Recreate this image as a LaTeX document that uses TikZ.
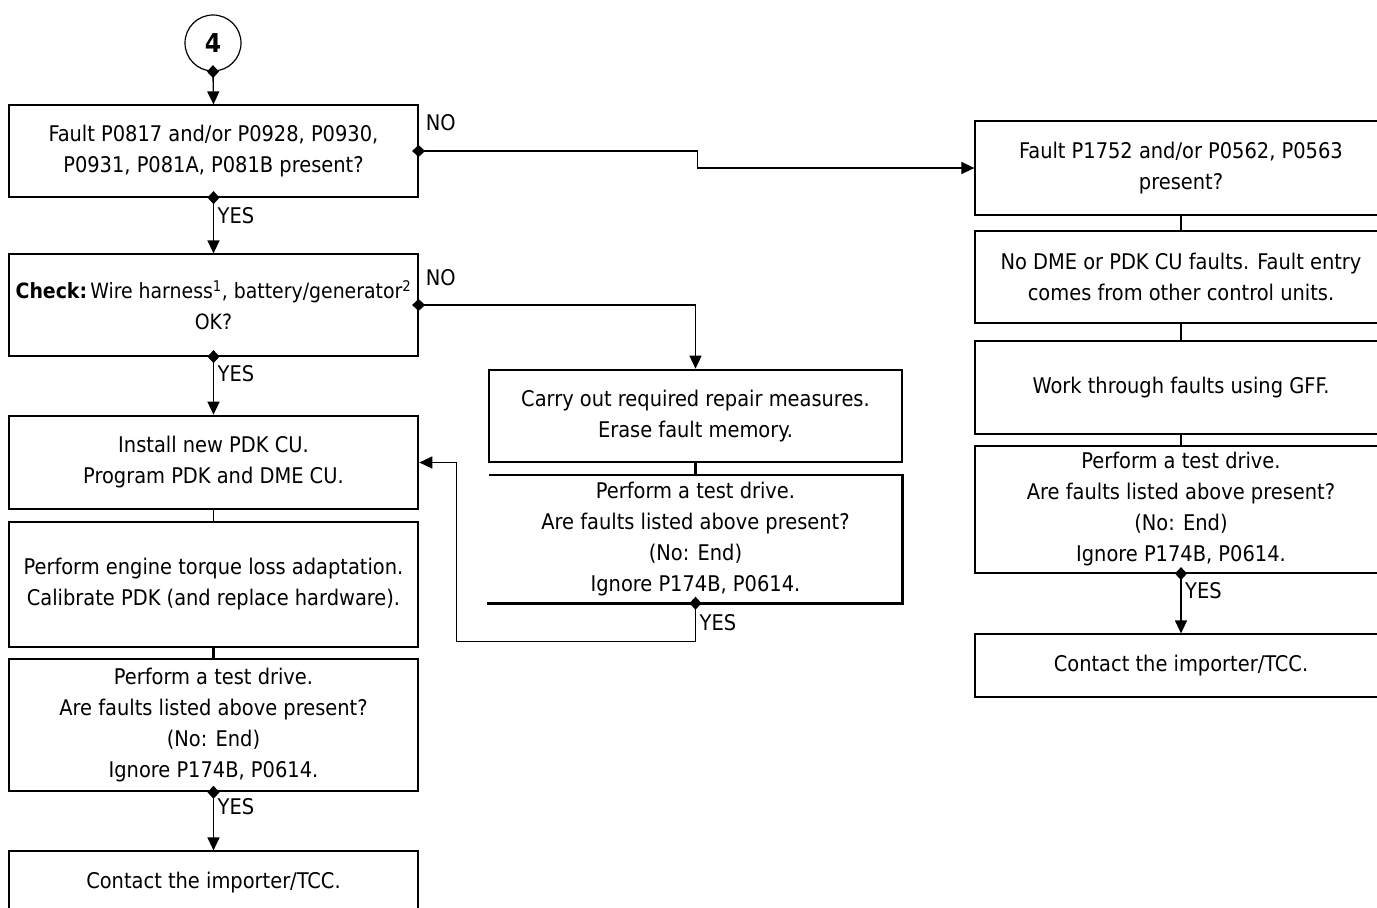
\documentclass[tikz,border=0pt]{standalone}
\usepackage{fontspec}
\setmainfont{DejaVu Sans Condensed}
\usetikzlibrary{arrows.meta}

\tikzset{
  txt/.style={font=\fontsize{21.6}{31}\selectfont},
  box/.style={txt, draw, line width=1.2pt, align=center, inner sep=0pt},
  boldbox/.style={txt, draw, line width=2.6pt, align=center, inner sep=0pt},
  openbox/.style={txt, align=center, inner sep=0pt},
  flow/.style={line width=1.3pt, {Diamond[length=13pt,width=12pt]}-{Triangle[length=13pt,width=12pt]}, shorten <=-6.5pt},
  plain/.style={line width=1.2pt},
  lbl/.style={txt, inner sep=0pt, anchor=base west},
}

\begin{document}
\begin{tikzpicture}[x=1pt, y=-1pt]
\useasboundingbox (0,0) rectangle (1377,908);
\clip (0,0) rectangle (1377,908);

% entry connector
\node[draw, circle, line width=1.2pt, minimum size=56pt, inner sep=0pt,
      font=\fontsize{26}{30}\selectfont\bfseries] (c4) at (213,43) {4};

% left column
\node[box, minimum width=409pt, minimum height=92pt] (L1) at (213.5,151)
  {Fault P0817 and/or P0928, P0930,\\P0931, P081A, P081B present?};
\node[box, minimum width=409pt, minimum height=102pt, font=\fontsize{21}{31}\selectfont] (L2) at (213.5,305)
  {\textbf{Check:}\hspace{0.15em}Wire harness\textsuperscript{1}, battery/generator\textsuperscript{2}\\OK?};
\node[boldbox, minimum width=409pt, minimum height=93pt] (L3) at (213.5,462.5)
  {Install new PDK CU.\\Program PDK and DME CU.};
\node[box, minimum width=409pt, minimum height=125pt] (L4) at (213.5,584.5)
  {Perform engine torque loss adaptation.\\Calibrate PDK (and replace hardware).};
\node[boldbox, minimum width=409pt, minimum height=132pt] (L5) at (213.5,725)
  {Perform a test drive.\\Are faults listed above present?\\(No: End)\\Ignore P174B, P0614.};
\node[box, minimum width=409pt, minimum height=63pt] (L6) at (213.5,882.5)
  {Contact the importer/TCC.};

% middle column
\node[boldbox, minimum width=413pt, minimum height=92pt] (M1) at (695.5,416)
  {Carry out required repair measures.\\Erase fault memory.};
\node[openbox, minimum width=413pt, minimum height=128pt] (M2) at (695.5,539)
  {Perform a test drive.\\Are faults listed above present?\\(No: End)\\Ignore P174B, P0614.};
\draw[line width=2.6pt] (M2.north west) -- (M2.north east) -- (M2.south east) -- ([xshift=-2pt]M2.south west);

% right column
\node[box, minimum width=412pt, minimum height=94pt] (R1) at (1181,168)
  {Fault P1752 and/or P0562, P0563\\present?};
\node[box, minimum width=412pt, minimum height=92pt] (R2) at (1181,277)
  {No DME or PDK CU faults. Fault entry\\comes from other control units.};
\node[box, minimum width=412pt, minimum height=93pt] (R3) at (1181,387.5)
  {Work through faults using GFF.};
\node[box, minimum width=412pt, minimum height=127pt] (R4) at (1181,509.5)
  {Perform a test drive.\\Are faults listed above present?\\(No: End)\\Ignore P174B, P0614.};
\node[box, minimum width=412pt, minimum height=63pt] (R5) at (1181,665.5)
  {Contact the importer/TCC.};

% connectors
\draw[flow] (c4.south) -- (L1.north);
\draw[flow] (L1.south) -- (L2.north);
\draw[flow] (L1.east) -- ++(279,0) |- (R1.west);
\draw[flow] (L2.east) -| (M1.north);
\draw[flow] (L2.south) -- (L3.north);
\draw[plain] (L3.south) -- (L4.north);
\draw[line width=2.6pt] (L4.south) -- (L5.north);
\draw[flow] (L5.south) -- (L6.north);
\draw[line width=2.2pt] (M1.south) -- (M2.north);
\draw[flow] (M2.south) -- ++(0,38) -| ([xshift=37pt]L3.east) -- (L3.east);
\draw[plain] (R1.south) -- (R2.north);
\draw[plain] (R2.south) -- (R3.north);
\draw[plain] (R3.south) -- (R4.north);
\draw[flow] (R4.south) -- (R5.north);

% branch labels
\node[lbl] (y1) at ([xshift=4pt,yshift=-26pt]L1.south) {YES};
\node[lbl] (y2) at ([xshift=4pt,yshift=-25pt]L2.south) {YES};
\node[lbl] (y3) at ([xshift=4pt,yshift=-22pt]L5.south) {YES};
\node[lbl] (y4) at ([xshift=4pt,yshift=-27pt]M2.south) {YES};
\node[lbl] (y5) at ([xshift=4pt,yshift=-25pt]R4.south) {YES};
\node[lbl] (n1) at ([xshift=7pt,yshift=21pt]L1.east) {NO};
\node[lbl] (n2) at ([xshift=7pt,yshift=20pt]L2.east) {NO};
\end{tikzpicture}
\end{document}
